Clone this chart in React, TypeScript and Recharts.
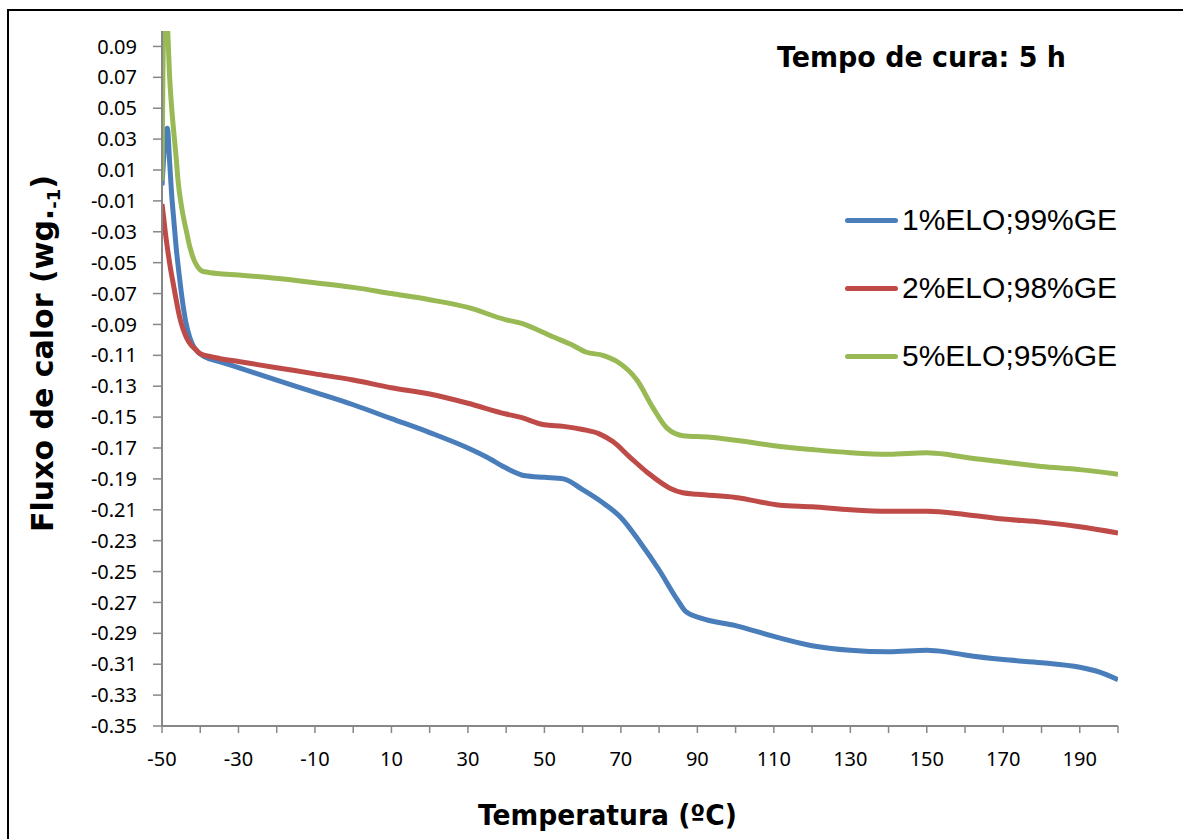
import { LineChart, Line, XAxis, YAxis } from "recharts";

// temperatures (ºC) and heat flow values
const tempBlue = [
  -50, -49.5, -49, -48.6, -48, -47.5, -47, -46.3, -45.5, -44.7, -43.8, -42.8, -41.8, -40.5, -38.8, -35, -30, -20, -10, 0,
  10, 20, 30, 35, 40, 45, 50, 55, 60, 65, 70, 75, 80, 84.7, 87, 90.7, 100, 110, 120, 130, 140, 150, 155, 160, 170, 180,
  190, 195, 200,
];
const fluxBlue = [
  0.0, 0.02, 0.035, 0.037, 0.015, -0.005, -0.02, -0.04, -0.058, -0.074, -0.088, -0.098, -0.104, -0.108, -0.111, -0.114,
  -0.118, -0.126, -0.134, -0.142, -0.151, -0.16, -0.17, -0.176, -0.183, -0.188, -0.189, -0.19, -0.197, -0.205, -0.215,
  -0.231, -0.249, -0.268, -0.276, -0.28, -0.285, -0.292, -0.298, -0.301, -0.302, -0.301, -0.302, -0.304, -0.307, -0.309,
  -0.312, -0.315, -0.32,
];

const tempRed = [
  -50, -49.6, -49.2, -48.5, -47.7, -47.1, -46.3, -45.5, -44.5, -43.5, -42.5, -41.3, -40, -37, -35, -30, -20, -10, 0, 10,
  20, 30, 40, 43.6, 50, 55, 60, 64.5, 68, 72.4, 77, 82.8, 86.2, 90, 100, 111.6, 120, 130, 140, 150, 160, 170, 180, 190,
  200,
];
const fluxRed = [
  -0.012, -0.02, -0.029, -0.042, -0.055, -0.063, -0.074, -0.084, -0.093, -0.099, -0.103, -0.106, -0.109, -0.111, -0.112,
  -0.114, -0.118, -0.122, -0.126, -0.131, -0.135, -0.141, -0.148, -0.15, -0.155, -0.156, -0.158, -0.161, -0.166, -0.176,
  -0.186, -0.196, -0.199, -0.2, -0.202, -0.207, -0.208, -0.21, -0.211, -0.211, -0.213, -0.216, -0.218, -0.221, -0.225,
];

const tempGreen = [
  -50, -49.8, -49.6, -49.2, -48.6, -48, -47.3, -46.9, -46.3, -45.8, -44.8, -43.5, -42.7, -41.5, -40.6, -39.5, -38.5,
  -35.6, -30, -21, -10, 0, 10, 20, 30, 40, 43.6, 52.2, 57, 61, 65.3, 69, 74.2, 78.4, 82, 86.2, 93.3, 100, 111.6, 120,
  130, 140, 150, 155, 160, 170, 180, 190, 200,
];
const fluxGreen = [
  0.003, 0.06, 0.105, 0.12, 0.105, 0.07, 0.045, 0.034, 0.018, 0.003, -0.015, -0.031, -0.04, -0.049, -0.053, -0.0555,
  -0.056, -0.057, -0.058, -0.06, -0.063, -0.066, -0.07, -0.074, -0.079, -0.087, -0.089, -0.098, -0.103, -0.108, -0.11,
  -0.114, -0.126, -0.144, -0.157, -0.162, -0.163, -0.165, -0.169, -0.171, -0.173, -0.174, -0.173, -0.174, -0.176,
  -0.179, -0.182, -0.184, -0.187,
];

const xTicks = [
  -50, -40, -30, -20, -10, 0, 10, 20, 30, 40, 50, 60, 70, 80, 90, 100, 110, 120, 130, 140, 150, 160, 170, 180, 190, 200,
];
const xLabels = [-50, -30, -10, 10, 30, 50, 70, 90, 110, 130, 150, 170, 190];
const yTicks = [
  -0.35, -0.33, -0.31, -0.29, -0.27, -0.25, -0.23, -0.21, -0.19, -0.17, -0.15, -0.13, -0.11, -0.09, -0.07, -0.05, -0.03,
  -0.01, 0.01, 0.03, 0.05, 0.07, 0.09,
];

const seriesNames = ["1%ELO;99%GE", "2%ELO;98%GE", "5%ELO;95%GE"];
const seriesColors = ["#4a7ebb", "#be4b48", "#98b954"];

const zip = (t: number[], v: number[]) => t.map((x, i) => ({ t: x, v: v[i] }));
const blueData = zip(tempBlue, fluxBlue);
const redData = zip(tempRed, fluxRed);
const greenData = zip(tempGreen, fluxGreen);

const boldFont = "'DejaVu Sans', sans-serif";

// legend kept outside the chart so it does not shrink the plot area
const LegendBox = () => (
  <div style={{ position: "absolute", left: 845, top: 186 }}>
    {seriesNames.map((name, i) => (
      <div key={name} style={{ display: "flex", alignItems: "center", height: 68 }}>
        <div
          style={{ width: 53, height: 5, borderRadius: 3, background: seriesColors[i], marginRight: 4 }}
        />
        <span style={{ fontFamily: "'Liberation Sans', Arial, sans-serif", fontSize: 30, color: "#000" }}>
          {name}
        </span>
      </div>
    ))}
  </div>
);

const App = () => {
  return (
    <div style={{ position: "absolute", left: 0, top: 0, width: 1183, height: 839, background: "#fff" }}>
      <div
        style={{
          position: "absolute",
          left: 7,
          top: 9,
          width: 1176,
          height: 830,
          borderTop: "2px solid #000",
          borderLeft: "2px solid #000",
        }}
      />
      <div style={{ position: "absolute", left: 0, top: 0 }}>
        <LineChart width={1183} height={839} margin={{ top: 31, right: 65, left: 82, bottom: 73 }}>
          <XAxis
            dataKey="t"
            type="number"
            domain={[-50, 200]}
            ticks={xTicks}
            interval={0}
            allowDataOverflow
            tickFormatter={(v: number) => (xLabels.includes(v) ? String(v) : "")}
            tick={{ fontFamily: "'Noto Sans', sans-serif", fontSize: 20, fill: "#000" }}
            tickSize={7}
            tickMargin={19}
            axisLine={{ stroke: "#878787", strokeWidth: 2 }}
            tickLine={{ stroke: "#878787", strokeWidth: 1.5 }}
            height={40}
          />
          <YAxis
            type="number"
            domain={[-0.35, 0.1]}
            ticks={yTicks}
            interval={0}
            allowDataOverflow
            tickFormatter={(v: number) => v.toFixed(2)}
            tick={{ fontFamily: "'Noto Sans', sans-serif", fontSize: 20, fill: "#000" }}
            tickSize={9}
            tickMargin={16}
            axisLine={{ stroke: "#878787", strokeWidth: 2 }}
            tickLine={{ stroke: "#878787", strokeWidth: 1.5 }}
            width={80}
          />
          <Line data={blueData} dataKey="v" name={seriesNames[0]} stroke={seriesColors[0]} strokeWidth={5} dot={false} type="monotone" isAnimationActive={false} />
          <Line data={redData} dataKey="v" name={seriesNames[1]} stroke={seriesColors[1]} strokeWidth={5} dot={false} type="monotone" isAnimationActive={false} />
          <Line data={greenData} dataKey="v" name={seriesNames[2]} stroke={seriesColors[2]} strokeWidth={5} dot={false} type="monotone" isAnimationActive={false} />
          <text
            x={777}
            y={67}
            fontFamily={boldFont}
            fontWeight="bold"
            fontSize={28}
            textLength={289}
            lengthAdjust="spacingAndGlyphs"
            fill="#000"
          >
            Tempo de cura: 5 h
          </text>
          <text
            x={478}
            y={825}
            fontFamily={boldFont}
            fontWeight="bold"
            fontSize={28}
            textLength={259}
            lengthAdjust="spacingAndGlyphs"
            fill="#000"
          >
            Temperatura (ºC)
          </text>
          <text
            x={0}
            y={0}
            transform="translate(53, 532) rotate(-90)"
            fontFamily={boldFont}
            fontWeight="bold"
            fontSize={30}
            fill="#000"
          >
            Fluxo de calor (wg.
            <tspan fontSize={18} dy={7}>
              -1
            </tspan>
            <tspan dy={-7}>)</tspan>
          </text>
        </LineChart>
      </div>
      <LegendBox />
    </div>
  );
};

export default App;
